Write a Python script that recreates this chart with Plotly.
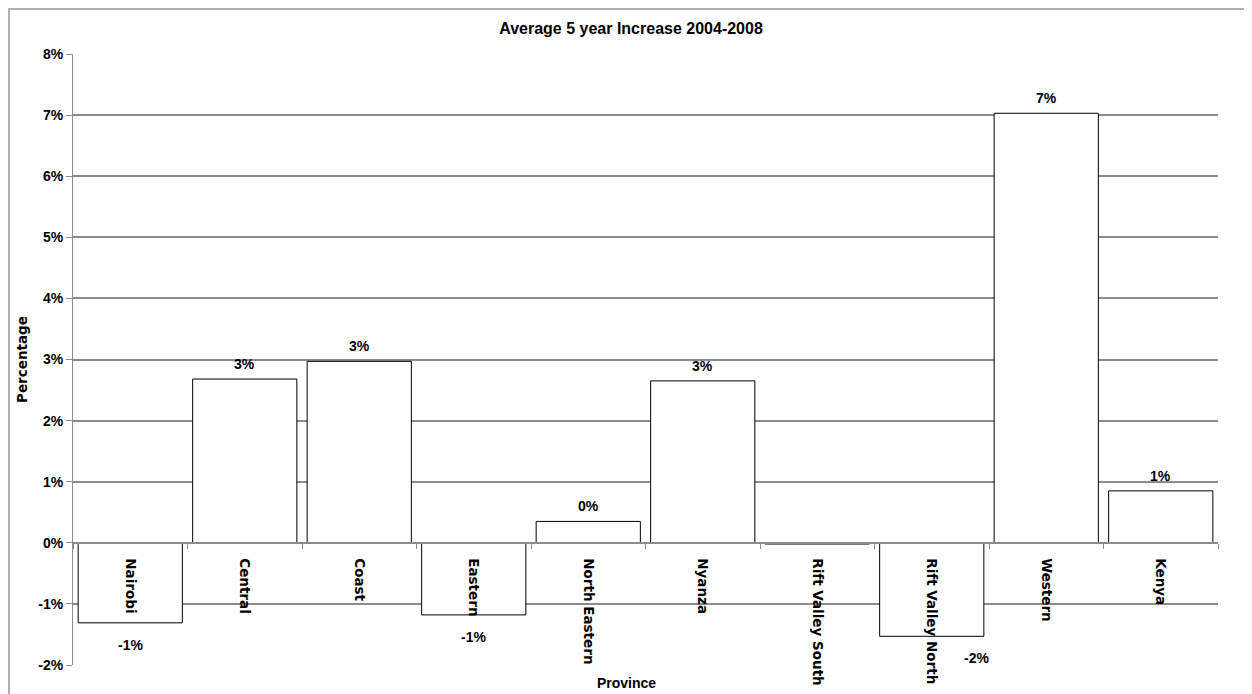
import plotly.graph_objects as go

categories = ["Nairobi", "Central", "Coast", "Eastern", "North Eastern", "Nyanza",
              "Rift Valley South", "Rift Valley North", "Western", "Kenya"]
values = [-0.0131, 0.0268, 0.0297, -0.0118, 0.0035, 0.0265, -0.0002, -0.0153, 0.0703, 0.0085]
show_label = [True, True, True, True, True, True, False, True, True, True]
label_xshift = [0, 0, 0, 0, 0, 0, 0, 45, 0, 0]

y_tickvals = [-0.02, -0.01, 0.0, 0.01, 0.02, 0.03, 0.04, 0.05, 0.06, 0.07, 0.08]
y_ticktext = ["-2%", "-1%", "0%", "1%", "2%", "3%", "4%", "5%", "6%", "7%", "8%"]

title_text = "Average 5 year Increase 2004-2008"
y_title = "Percentage"
x_title = "Province"

NARROW = "Liberation Sans Narrow, Arial Narrow, Liberation Sans, sans-serif"
WIDE = "DejaVu Sans, Verdana, sans-serif"
GRID = "#8c8c8c"

# page body has an 8px margin: the figure starts at (8, 8)
OFF = 8
PW, PH = 1252, 694
W, H = PW - OFF, PH - OFF
L, R, T, B = 73 - OFF, PW - 1218, 54 - OFF, PH - 665
pw, ph = W - L - R, H - T - B
top_px = OFF + T          # page y of plot top
bot_px = top_px + ph      # page y of plot bottom
left_px = OFF + L

ymin, ymax = -0.02, 0.08

fig = go.Figure()
fig.add_trace(go.Bar(
    x=categories, y=values,
    marker=dict(color="white", line=dict(color="black", width=1)),
    showlegend=False, hoverinfo="x+y",
))

for c, v, s, dx in zip(categories, values, show_label, label_xshift):
    if not s:
        continue
    txt = f"{round(v * 100):.0f}%".replace("−", "-")
    fig.add_annotation(
        x=c, y=v, xref="x", yref="y",
        text=f"<b>{txt}</b>",
        showarrow=False, xanchor="center", yanchor="middle",
        yshift=15 if v >= 0 else -22, xshift=dx,
        font=dict(family=NARROW, size=14, color="black"),
    )

zero_pos = (0 - ymin) / (ymax - ymin)

fig.update_layout(
    width=W, height=H,
    margin=dict(l=L, r=R, t=T, b=B, pad=0, autoexpand=False),
    paper_bgcolor="white", plot_bgcolor="white",
    bargap=0.09,
    title=dict(text=f"<b>{title_text}</b>", x=(631 - OFF) / W, xanchor="center",
               y=1 - (28 - OFF) / H, yanchor="middle",
               font=dict(family=NARROW, size=16, color="black")),
    xaxis=dict(
        type="category", anchor="free", position=zero_pos, automargin=False,
        showline=True, linecolor=GRID, linewidth=1.5,
        ticks="outside", tickson="boundaries", ticklen=5, tickcolor=GRID,
        tickangle=90, ticklabelstandoff=12,
        tickfont=dict(family=WIDE, size=13.5, color="black", weight="bold"),
        showgrid=False, zeroline=False,
    ),
    yaxis=dict(
        range=[ymin, ymax], tickvals=y_tickvals, ticktext=y_ticktext,
        automargin=False,
        showgrid=True, gridcolor=GRID, gridwidth=1.5,
        showline=True, linecolor=GRID, linewidth=1,
        ticks="outside", ticklen=6, tickcolor=GRID,
        tickfont=dict(family=NARROW, size=14, color="black", weight="bold"),
        zeroline=False,
        title=dict(text=f"<b>{y_title}</b>", standoff=7,
                   font=dict(family=WIDE, size=13.5, color="black")),
    ),
)

fig.add_annotation(
    x=(626 - left_px) / pw, y=(bot_px - 693) / ph,
    xref="paper", yref="paper",
    text=f"<b>{x_title}</b>", showarrow=False,
    xanchor="center", yanchor="bottom",
    font=dict(family=NARROW, size=14, color="black"),
)

# outer chart border (as close to the page edge as the figure allows)
fig.add_shape(
    type="rect", xref="paper", yref="paper",
    x0=(9 - left_px) / pw, x1=(1246 - left_px) / pw,
    y0=(bot_px - 700) / ph, y1=(bot_px - 9) / ph,
    line=dict(color="#b0b0b0", width=2), fillcolor="rgba(0,0,0,0)",
    layer="below",
)

fig.write_html("out.html")
